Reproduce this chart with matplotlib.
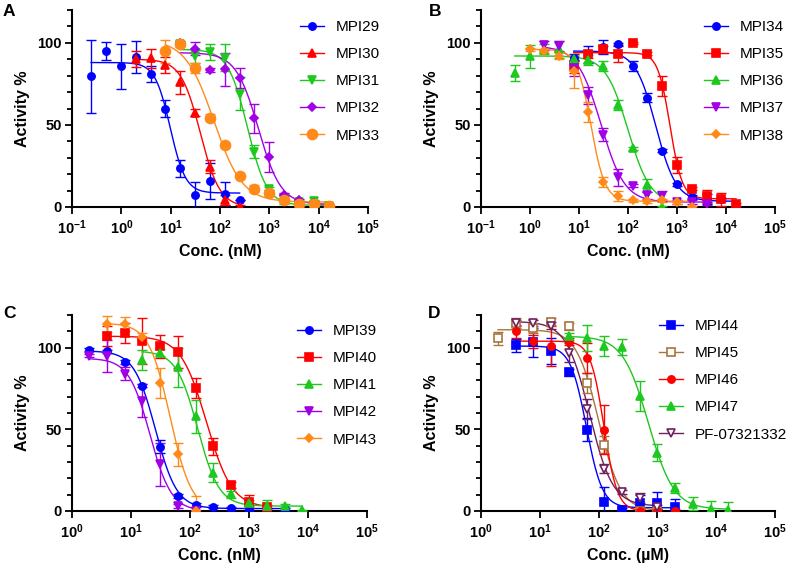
import numpy as np
import matplotlib
matplotlib.use('Agg')
from matplotlib import pyplot as plt
from matplotlib.lines import Line2D
from matplotlib.ticker import MultipleLocator, FixedLocator

plt.rcParams['font.family'] = ['Liberation Sans', 'DejaVu Sans']
plt.rcParams['mathtext.fontset'] = 'custom'
plt.rcParams['mathtext.bf'] = 'Liberation Sans:bold'
plt.rcParams['mathtext.rm'] = 'Liberation Sans:bold'

# ---- panel A ----
mpi29_x = [0.244, 0.488, 0.977, 1.95, 3.91, 7.81, 15.6, 31.25, 62.5, 125, 250]
mpi29_y = [79.5, 95.3, 85.7, 91.4, 81, 60, 23.5, 7.1, 15.7, 8.2, 4.1]
mpi29_e = [22.5, 5.5, 13.6, 9.5, 5, 5, 5, 8, 11, 7, 0]
mpi30_x = [1.95, 3.91, 7.81, 15.6, 31.25, 62.5, 125, 250]
mpi30_y = [90, 90.5, 86.5, 76, 57.5, 24.5, 4.5, 0]
mpi30_e = [5, 6, 5, 7, 2, 4, 3, 1]
mpi31_x = [15.6, 31.25, 62.5, 125, 250, 500, 1000, 2000, 4000, 8000, 16000]
mpi31_y = [99.5, 92, 94.3, 91, 69, 33.7, 11.2, 4.7, 3, 3.5, 0.6]
mpi31_e = [1, 4, 5, 8, 10, 4, 1, 3, 1, 1, 0.5]
mpi32_x = [15.6, 31.25, 62.5, 125, 250, 500, 1000, 2000, 4000, 8000, 16000]
mpi32_y = [100, 96.5, 83.5, 84, 78.4, 54, 30.6, 7.5, 4, 2.7, 0.6]
mpi32_e = [1, 4, 1, 10, 6, 9, 9, 1, 1, 1, 0.5]
mpi33_x = [7.81, 15.6, 31.25, 62.5, 125, 250, 500, 1000, 2000, 4000, 8000, 16000]
mpi33_y = [95, 99.2, 84.7, 54.5, 37.8, 19, 11.2, 8.6, 4, 2, 1.6, 0.8]
mpi33_e = [7, 2, 3, 2, 1, 1, 2, 2, 1, 1, 1, 1]
# fit parameters: top, bottom, IC50, hill
fit_a = [[88, 8.5, 9.8, 2.8], [90, 0, 40, 2.2], [96, 1, 360, 2.2],
         [94, 1.5, 600, 1.9], [102, 3, 75, 1.5]]

# ---- panel B ----
mpi34_x = [7.81, 15.6, 31.25, 62.5, 125, 250, 500, 1000, 2000, 4000, 8000, 16000]
mpi34_y = [91, 93, 97.5, 99, 85.7, 66.7, 34.3, 13.9, 6.1, 5.1, 4.7, 0]
mpi34_e = [2, 5, 4, 1, 3, 3, 1, 1, 1, 3, 1, 0.5]
mpi35_x = [7.81, 15.6, 31.25, 62.5, 125, 250, 500, 1000, 2000, 4000, 8000, 16000]
mpi35_y = [85.7, 93, 96, 93.5, 100, 93.5, 73.5, 25.5, 11.2, 6.5, 4.7, 1.6]
mpi35_e = [4, 2, 2, 5, 0.5, 1, 6, 5, 1, 4, 4, 1]
mpi36_x = [0.488, 0.977, 1.95, 3.91, 7.81, 15.6, 31.25, 62.5, 125, 250, 500]
mpi36_y = [81.6, 91.8, 96, 96, 90, 89.8, 85.7, 62.2, 35.7, 13.3, 0]
mpi36_e = [5, 7, 3, 5, 2, 3, 3, 3, 1, 4, 0.5]
mpi37_x = [1.95, 3.91, 7.81, 15.6, 31.25, 62.5, 125, 250, 500, 1000, 2000, 4000]
mpi37_y = [98.4, 98, 84.7, 68, 43.9, 18, 12.9, 7.1, 6.5, 3, 3, 2]
mpi37_e = [3, 3, 5, 5, 4, 5, 1, 2, 3, 1, 1, 1]
mpi38_x = [0.977, 1.95, 3.91, 7.81, 15.6, 31.25, 62.5, 125, 250, 500, 1000, 2000]
mpi38_y = [96, 95, 92.2, 82.7, 57.8, 15.3, 6.5, 4, 3.5, 4, 3, 0]
mpi38_e = [1, 1, 2, 10, 6, 3, 3, 1, 1, 1, 1, 0.5]
fit_b = [[95, 3.5, 370, 2.1], [94, 5, 720, 3.5], [92, 2, 100, 1.9],
         [98, 3, 28, 1.8], [96, 3.5, 17.5, 3]]

# ---- panel C ----
mpi39_x = [1.95, 3.91, 7.81, 15.6, 31.25, 62.5, 125, 250, 500, 1000, 2000, 4000]
mpi39_y = [98.8, 97.8, 91.2, 76.7, 39.3, 9.2, 3.7, 2.7, 1.6, 1, 0.6, 1]
mpi39_e = [1, 1, 1, 1, 4, 1, 1, 1, 1, 1, 1, 1]
mpi40_x = [3.91, 7.81, 15.6, 31.25, 62.5, 125, 250, 500, 1000, 2000]
mpi40_y = [107, 109, 104, 100.8, 97.3, 75.3, 39.5, 16, 5.7, 2.5]
mpi40_e = [6, 6, 14, 7, 10, 6, 5, 2, 4, 1]
mpi41_x = [15.6, 31.25, 62.5, 125, 250, 500, 1000, 2000, 4000, 8000]
mpi41_y = [92.4, 97, 88, 58, 23.5, 10.2, 5, 3, 3, 0.4]
mpi41_e = [6, 2, 12, 10, 6, 2, 2, 4, 1, 0.5]
mpi42_x = [1.95, 3.91, 7.81, 15.6, 31.25, 62.5, 125]
mpi42_y = [95, 95, 84, 67.5, 28.6, 3, 0]
mpi42_e = [1, 10, 4, 10, 13, 1, 0.5]
mpi43_x = [3.91, 7.81, 15.6, 31.25, 62.5, 125]
mpi43_y = [114.5, 114.5, 106.7, 78.3, 34.8, 0]
mpi43_e = [5, 4, 2, 9, 7, 9]
fit_c = [[98, 1.5, 26, 2.4], [107, 2, 190, 2], [98, 3, 135, 2.4],
         [93.5, 0, 21, 2.4], [115, 0, 46, 2.4]]

# ---- panel D ----
mpi44_x = [3.91, 7.81, 15.6, 31.25, 62.5, 125, 250, 500, 1000, 2000]
mpi44_y = [101.6, 103.3, 98.2, 84.9, 49.7, 5.7, 0.6, 4.7, 4.7, 2.5]
mpi44_e = [4, 9, 8, 2, 7, 9, 1, 5, 7, 5]
mpi45_x = [1.95, 3.91, 7.81, 15.6, 31.25, 62.5, 125, 500, 1000]
mpi45_y = [105.7, 115, 112, 116, 113, 78.3, 40.7, 0, 0]
mpi45_e = [4, 3, 3, 2, 2, 6, 5, 1, 1]
mpi46_x = [3.91, 7.81, 15.6, 31.25, 62.5, 125, 500, 1000, 2000]
mpi46_y = [110, 104, 101, 103.7, 93.7, 49.7, 0, 0, 0]
mpi46_e = [4, 4, 12, 2, 9, 15, 1, 1, 1]
mpi47_x = [31.25, 62.5, 125, 250, 500, 1000, 2000, 4000, 8000, 16000]
mpi47_y = [107, 106, 101, 100.6, 70.5, 35.8, 13.9, 4.5, 1, 0.6]
mpi47_e = [2, 8, 6, 5, 9, 5, 3, 4, 5, 5]
pf_x = [3.91, 7.81, 15.6, 31.25, 62.5, 125, 250, 500, 1000]
pf_y = [115, 115, 113.5, 97, 62.4, 26, 11.7, 8.2, 2.5]
pf_e = [2, 2, 2, 6, 6, 3, 1, 3, 1]
fit_d = [[101, 2, 62, 3.2], [111, 0, 100, 2.3], [104, 0, 123, 3.8],
         [107, 1, 700, 2], [116, 3, 70, 2.2]]

BLUE = '#0000ff'
RED = '#ff0000'
GREEN = '#1ec81e'
PURPLE = '#a100e6'
ORANGE = '#ff8a1a'
BROWN = '#a8753f'
PLUM = '#6e1f5e'


def hill(x, top, bottom, ic50, h):
    return bottom + (top - bottom) / (1 + (x / ic50) ** h)


def draw_series(ax, x, y, e, fit, color, marker, ms, mfc=None):
    mfc = color if mfc is None else mfc
    xs = np.logspace(np.log10(min(x)), np.log10(max(x)), 300)
    ax.plot(xs, hill(xs, *fit), color=color, lw=1.0, zorder=2)
    ax.errorbar(x, y, yerr=e, fmt='none', ecolor=color, elinewidth=1.0,
                capsize=3.5, capthick=1.0, zorder=3)
    ax.plot(x, y, linestyle='none', marker=marker, ms=ms, color=color,
            mfc=mfc, mec=color, mew=1.2, zorder=4)
    return Line2D([0], [0], color=color, lw=1.0, marker=marker, ms=ms,
                  mfc=mfc, mec=color, mew=1.2)


def style_axes(ax, xmin, unit):
    ax.set_xscale('log')
    ax.set_xlim(xmin, 1e5)
    ax.set_ylim(0, 120)
    exps = list(range(int(np.log10(xmin)), 6))
    ax.xaxis.set_major_locator(FixedLocator([10.0 ** k for k in exps]))
    ax.xaxis.set_minor_locator(FixedLocator([]))
    ax.set_xticklabels([r'$\mathbf{10^{%d}}$' % k for k in exps])
    ax.yaxis.set_major_locator(FixedLocator([0, 50, 100]))
    ax.yaxis.set_minor_locator(MultipleLocator(10))
    for lab in ax.get_yticklabels():
        lab.set_fontweight('bold')
    ax.tick_params(axis='both', which='major', labelsize=10.5, width=1.3, length=5, pad=2.5)
    ax.tick_params(axis='x', which='major', pad=3.5)
    ax.tick_params(axis='y', which='minor', width=1.3, length=3.5)
    for s in ['top', 'right']:
        ax.spines[s].set_visible(False)
    for s in ['left', 'bottom']:
        ax.spines[s].set_linewidth(1.5)
    ax.set_xlabel('Conc. (%s)' % unit, fontsize=11.5, fontweight='bold', labelpad=5)
    ax.set_ylabel('Activity %', fontsize=11.5, fontweight='bold', labelpad=5)


fig = plt.figure(figsize=(7.9, 5.68), dpi=100)
W, H = 790.0, 568.0


def axes_px(l, r, top, bot):
    return fig.add_axes([l / W, 1 - bot / H, (r - l) / W, (bot - top) / H])


axA = axes_px(72, 368, 10, 207)
axB = axes_px(481, 775, 10, 207)
axC = axes_px(72, 367, 315, 511)
axD = axes_px(481, 775, 315, 511)

style_axes(axA, 0.1, 'nM')
style_axes(axB, 0.1, 'nM')
style_axes(axC, 1, 'nM')
style_axes(axD, 1, 'µM')

hA = [draw_series(axA, mpi29_x, mpi29_y, mpi29_e, fit_a[0], BLUE, 'o', 5.2),
      draw_series(axA, mpi30_x, mpi30_y, mpi30_e, fit_a[1], RED, '^', 5.5),
      draw_series(axA, mpi31_x, mpi31_y, mpi31_e, fit_a[2], GREEN, 'v', 5.5),
      draw_series(axA, mpi32_x, mpi32_y, mpi32_e, fit_a[3], PURPLE, 'D', 3.6),
      draw_series(axA, mpi33_x, mpi33_y, mpi33_e, fit_a[4], ORANGE, 'o', 7.2)]
hB = [draw_series(axB, mpi34_x, mpi34_y, mpi34_e, fit_b[0], BLUE, 'o', 5.2),
      draw_series(axB, mpi35_x, mpi35_y, mpi35_e, fit_b[1], RED, 's', 5.2),
      draw_series(axB, mpi36_x, mpi36_y, mpi36_e, fit_b[2], GREEN, '^', 5.5),
      draw_series(axB, mpi37_x, mpi37_y, mpi37_e, fit_b[3], PURPLE, 'v', 5.5),
      draw_series(axB, mpi38_x, mpi38_y, mpi38_e, fit_b[4], ORANGE, 'D', 3.6)]
hC = [draw_series(axC, mpi39_x, mpi39_y, mpi39_e, fit_c[0], BLUE, 'o', 5.2),
      draw_series(axC, mpi40_x, mpi40_y, mpi40_e, fit_c[1], RED, 's', 5.2),
      draw_series(axC, mpi41_x, mpi41_y, mpi41_e, fit_c[2], GREEN, '^', 5.5),
      draw_series(axC, mpi42_x, mpi42_y, mpi42_e, fit_c[3], PURPLE, 'v', 5.5),
      draw_series(axC, mpi43_x, mpi43_y, mpi43_e, fit_c[4], ORANGE, 'D', 3.6)]
hD = [draw_series(axD, mpi44_x, mpi44_y, mpi44_e, fit_d[0], BLUE, 's', 5.2),
      draw_series(axD, mpi45_x, mpi45_y, mpi45_e, fit_d[1], BROWN, 's', 5.5, mfc='white'),
      draw_series(axD, mpi46_x, mpi46_y, mpi46_e, fit_d[2], RED, 'o', 5.2),
      draw_series(axD, mpi47_x, mpi47_y, mpi47_e, fit_d[3], GREEN, '^', 5.5),
      draw_series(axD, pf_x, pf_y, pf_e, fit_d[4], PLUM, 'v', 6, mfc='white')]

labA = ['MPI29', 'MPI30', 'MPI31', 'MPI32', 'MPI33']
labB = ['MPI34', 'MPI35', 'MPI36', 'MPI37', 'MPI38']
labC = ['MPI39', 'MPI40', 'MPI41', 'MPI42', 'MPI43']
labD = ['MPI44', 'MPI45', 'MPI46', 'MPI47', 'PF-07321332']

for ax, hs, labs, (lx, ty) in [(axA, hA, labA, (300, 20)), (axB, hB, labB, (704, 20)),
                               (axC, hC, labC, (297, 324)), (axD, hD, labD, (659, 319))]:
    ax.legend(hs, labs, loc='upper left', bbox_to_anchor=(lx / W, 1 - ty / H),
              bbox_transform=fig.transFigure, frameon=False, fontsize=11,
              handlelength=1.6, handletextpad=0.75, labelspacing=0.86,
              borderpad=0, borderaxespad=0)

for letter, (px, py) in zip('ABCD', [(3, 4), (429, 4), (3, 306), (428, 306)]):
    fig.text(px / W, 1 - py / H, letter, fontsize=12.5, fontweight='bold', va='top', ha='left')

fig.savefig('out.png', dpi=100)
